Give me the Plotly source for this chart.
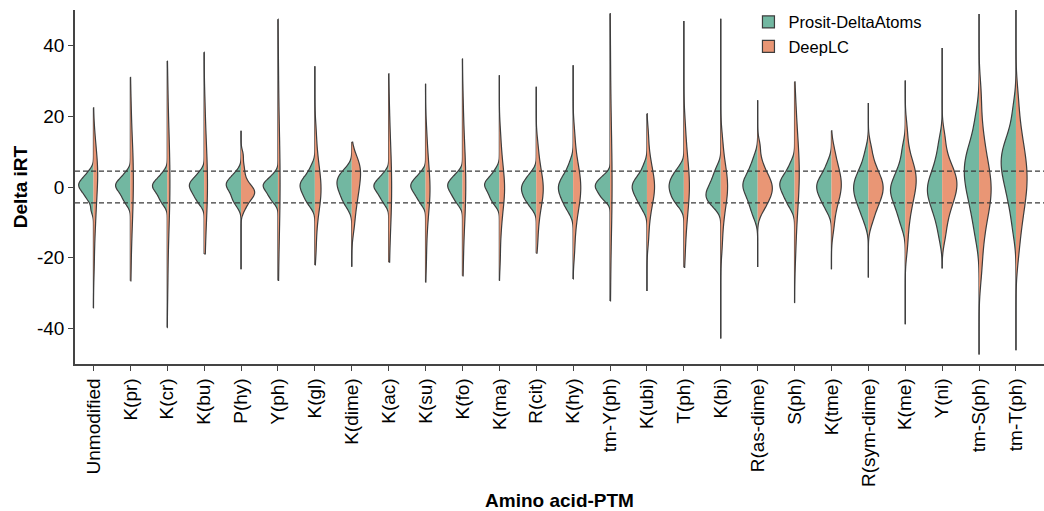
import numpy as np
import plotly.graph_objects as go

categories = ["Unmodified", "K(pr)", "K(cr)", "K(bu)", "P(hy)", "Y(ph)", "K(gl)", "K(dime)",
              "K(ac)", "K(su)", "K(fo)", "K(ma)", "R(cit)", "K(hy)", "tm-Y(ph)", "K(ubi)",
              "T(ph)", "K(bi)", "R(as-dime)", "S(ph)", "K(tme)", "R(sym-dime)", "K(me)",
              "Y(ni)", "tm-S(ph)", "tm-T(ph)"]

# Delta iRT values (quantile-like samples) per category
prosit_delta_atoms = [
    [-6.5, -4, -3, -2.2, -1.5, -0.9, -0.4, 0, 0.4, 0.8, 1.2, 1.6, 2.1, 2.7, 3.5, 4.6],
    [-5, -3.8, -3, -2.3, -1.6, -1, -0.5, -0.1, 0.3, 0.6, 1, 1.4, 1.9, 2.5, 3.2, 4.3],
    [-5, -3.9, -3.1, -2.4, -1.7, -1.1, -0.6, -0.2, 0.2, 0.5, 0.9, 1.3, 1.8, 2.4, 3.1, 4.3],
    [-5, -3.9, -3.1, -2.4, -1.8, -1.2, -0.7, -0.2, 0.2, 0.6, 1, 1.4, 1.9, 2.5, 3.2, 4.4],
    [-5.5, -4.2, -3.5, -2.8, -2, -1.2, -0.6, -0.1, 0.3, 0.7, 1.1, 1.5, 2, 2.6, 3.3, 4.5],
    [-4.5, -3.5, -2.8, -2.2, -1.6, -1.1, -0.6, -0.2, 0.2, 0.5, 0.8, 1.2, 1.6, 2.1, 2.8, 3.8],
    [-5.5, -4.3, -3.5, -2.7, -2, -1.3, -0.7, -0.2, 0.3, 0.8, 1.3, 1.8, 2.4, 3.2, 4.3, 6],
    [-6, -4.5, -3.6, -2.8, -2, -1.2, -0.5, 0, 0.6, 1.2, 1.8, 2.4, 2.9, 3.5, 4.3, 5.5],
    [-5, -3.8, -3, -2.3, -1.7, -1.1, -0.6, -0.2, 0.2, 0.5, 0.9, 1.3, 1.8, 2.4, 3.1, 4.2],
    [-5, -3.8, -3, -2.3, -1.7, -1.1, -0.6, -0.2, 0.2, 0.6, 1, 1.4, 1.9, 2.5, 3.2, 4.3],
    [-5, -3.9, -3.1, -2.4, -1.8, -1.2, -0.7, -0.2, 0.2, 0.6, 1, 1.4, 1.9, 2.5, 3.2, 4.2],
    [-5, -4, -3.2, -2.5, -1.8, -1.1, -0.5, 0, 0.4, 0.8, 1.2, 1.6, 2.1, 2.8, 3.7, 5],
    [-6, -4.8, -4, -3.3, -2.7, -2.1, -1.5, -1, -0.5, 0, 0.5, 1, 1.6, 2.3, 3.1, 4.3],
    [-7, -5.5, -4.5, -3.6, -2.8, -2, -1.3, -0.7, -0.1, 0.5, 1.1, 1.8, 2.6, 3.5, 4.8, 7],
    [-4, -3.2, -2.6, -2, -1.5, -1, -0.6, -0.2, 0.2, 0.5, 0.9, 1.3, 1.7, 2.2, 2.8, 3.7],
    [-6.5, -5, -4, -3.2, -2.4, -1.7, -1.1, -0.5, 0, 0.5, 1, 1.6, 2.3, 3.1, 4.2, 6.2],
    [-5.5, -4.3, -3.5, -2.8, -2.1, -1.4, -0.8, -0.2, 0.3, 0.9, 1.5, 2.1, 2.8, 3.5, 4.4, 5.7],
    [-6, -5, -4.3, -3.7, -3.1, -2.6, -2.1, -1.6, -1, -0.4, 0.3, 1.1, 2, 3, 4.2, 5.8],
    [-8.5, -6.5, -5, -3.8, -2.6, -1.6, -0.8, -0.1, 0.5, 1.1, 1.8, 2.6, 3.6, 4.8, 6.3, 8.5],
    [-6, -4.5, -3.5, -2.6, -1.8, -1.1, -0.4, 0.2, 0.7, 1.2, 1.8, 2.4, 3.1, 4, 5.2, 7],
    [-7, -5.3, -4.2, -3.3, -2.5, -1.7, -1, -0.4, 0.2, 0.8, 1.4, 2.1, 2.9, 3.9, 5.2, 7.2],
    [-10, -7.5, -6, -4.7, -3.6, -2.6, -1.7, -0.8, 0, 0.8, 1.7, 2.6, 3.7, 5, 6.8, 10],
    [-11, -8.5, -6.8, -5.3, -4, -3, -2.1, -1.3, -0.5, 0.3, 1.2, 2.2, 3.4, 5, 7.2, 11],
    [-14, -10, -7.8, -6, -4.5, -3.3, -2.2, -1.2, -0.3, 0.7, 1.8, 3, 4.5, 6.5, 9, 13],
    [-14, -9.5, -6.5, -4, -2, -0.3, 1.3, 2.8, 4.2, 5.6, 7, 8.4, 10, 12, 15, 20],
    [-12, -7, -4, -1.5, 0.5, 2.2, 3.8, 5.2, 6.5, 7.8, 9, 10.3, 11.8, 13.6, 16.5, 22],
]

deeplc = [
    [-22, -15, -11, -8, -5.5, -3.3, -1.3, 0.5, 2, 3.3, 4.6, 5.9, 7.3, 9, 11.5, 15],
    [-25, -17, -12.5, -9, -6.5, -4.2, -2, 0, 2, 4, 6, 8, 10.3, 13, 17, 24],
    [-28, -19, -13.5, -9.5, -6.8, -4.4, -2.1, 0.1, 2.3, 4.6, 7, 9.5, 12.3, 15.5, 20, 28],
    [-22, -15.5, -11.5, -8.3, -5.8, -3.8, -1.9, 0, 1.9, 3.8, 5.8, 8, 10.5, 13.5, 17.5, 24],
    [-6.5, -5, -4, -3.2, -2.6, -2.1, -1.7, -1.3, -0.9, -0.4, 0.2, 1, 2.2, 4, 6, 9],
    [-30, -20, -14.5, -10.5, -7.3, -4.6, -2, 0.6, 3.2, 5.8, 8.5, 11.5, 15, 19.5, 26, 36],
    [-18, -12.5, -9, -6.5, -4.8, -3.5, -2.3, -1.1, 0.1, 1.3, 2.6, 4, 5.7, 8, 11, 16],
    [-12, -9, -6.5, -4.5, -3, -1.6, -0.4, 0.7, 1.8, 2.9, 3.9, 4.8, 5.6, 6.4, 7.3, 8.5],
    [-26, -18, -13.5, -10, -7.5, -5.3, -3.3, -1.3, 0.7, 2.7, 4.8, 7, 9.5, 12.5, 16.5, 23],
    [-21, -14.5, -10.5, -7.8, -5.6, -4, -2.7, -1.4, -0.1, 1.3, 2.7, 4.3, 6.2, 8.5, 11.5, 16],
    [-24, -16.5, -12, -8.8, -6.3, -4.2, -2.3, -0.4, 1.5, 3.4, 5.4, 7.6, 10, 13, 17, 24],
    [-20, -13.5, -10, -7.3, -5.3, -3.8, -2.5, -1.3, -0.1, 1.1, 2.4, 3.8, 5.5, 7.7, 10.5, 15],
    [-16, -11.5, -8.5, -6.3, -4.7, -3.4, -2.3, -1.3, -0.3, 0.7, 1.7, 2.9, 4.3, 6, 8.5, 12],
    [-18, -12.5, -9.3, -6.8, -5, -3.6, -2.4, -1.2, 0, 1.2, 2.4, 3.7, 5.2, 7.2, 10, 15],
    [-32, -22, -15.5, -11, -7.7, -4.9, -2.2, 0.5, 3.2, 5.9, 8.7, 12, 16, 21, 28, 40],
    [-15, -10.5, -7.5, -5.4, -3.8, -2.6, -1.5, -0.5, 0.5, 1.5, 2.6, 3.8, 5.3, 7.3, 10, 15],
    [-20, -14, -10.5, -7.7, -5.5, -3.7, -2.1, -0.7, 0.7, 2.1, 3.6, 5.3, 7.3, 9.8, 13, 18],
    [-17, -12, -8.8, -6.4, -4.6, -3.2, -2, -0.8, 0.3, 1.4, 2.6, 3.9, 5.4, 7.3, 10, 14],
    [-7, -5.3, -4.2, -3.2, -2.4, -1.6, -0.9, -0.2, 0.5, 1.2, 2, 2.9, 4, 5.4, 7.5, 11.5],
    [-19, -12.5, -8.5, -5.5, -3, -1, 1, 2.7, 4.4, 6.1, 8, 10, 12.3, 15, 18.5, 24],
    [-12, -8.5, -6, -4.3, -3, -1.9, -0.9, 0, 0.9, 1.8, 2.8, 3.8, 5, 6.4, 8.3, 11],
    [-10, -7.5, -5.7, -4.4, -3.3, -2.3, -1.4, -0.6, 0.2, 1, 1.9, 2.9, 4, 5.5, 7.5, 11],
    [-17, -12, -8.5, -6, -4, -2.4, -1, 0.2, 1.4, 2.5, 3.5, 4.6, 5.8, 7.5, 10.5, 16],
    [-14, -10, -7.3, -5.3, -3.8, -2.5, -1.3, -0.3, 0.7, 1.7, 2.7, 3.8, 5, 6.6, 9.3, 14],
    [-24, -17, -12.5, -9, -6.5, -4.5, -2.8, -1.2, 0.4, 2, 3.8, 6, 8.6, 12, 17, 26],
    [-19, -13, -9.5, -6.5, -4, -2, -0.2, 1.5, 3.2, 5, 6.8, 8.8, 11, 14, 18, 25],
]

# extreme values (tails) per category
range_max = [22.4, 31.0, 35.6, 38.1, 15.9, 47.4, 34.1, 12.7, 32.0, 29.2, 36.2, 31.6, 28.3,
             34.4, 49.0, 20.7, 46.9, 47.5, 24.5, 29.7, 15.9, 23.7, 30.1, 39.3, 48.9, 50.0]
range_min = [-34.2, -26.5, -39.7, -18.9, -23.2, -26.4, -22.0, -22.5, -21.2, -26.9, -25.1,
             -26.4, -18.7, -26.0, -32.2, -29.4, -22.7, -42.8, -22.6, -32.7, -23.2, -25.6,
             -38.8, -22.9, -47.3, -46.1]

thresholds = [4.5, -4.5]
y_ticks = [-40, -20, 0, 20, 40]
y_tick_labels = ["-40", "-20", "0", "20", "40"]

GREEN = "#72b7a1"
ORANGE = "#e99675"
EDGE = "#3d3d3d"
AXIS = "#444444"
FONT = "Liberation Sans, Arial, sans-serif"
FULL_WIDTH = 0.8
BW_FACTOR = 0.8


def bandwidth(vals):
    v = np.asarray(vals, dtype=float)
    q75, q25 = np.percentile(v, [75, 25])
    spread = min(v.std(ddof=1), (q75 - q25) / 1.349)
    return BW_FACTOR * 1.059 * spread * len(v) ** -0.2


def kde_peak(vals, bw, lo, hi):
    v = np.asarray(vals, dtype=float)
    grid = np.linspace(lo, hi, 800)
    dens = np.exp(-0.5 * ((grid[:, None] - v[None, :]) / bw) ** 2).sum(axis=1)
    return dens.max() / (len(v) * bw * np.sqrt(2 * np.pi))


fig = go.Figure()
for i, cat in enumerate(categories):
    halves = [("Prosit-DeltaAtoms", prosit_delta_atoms[i], "negative", GREEN),
              ("DeepLC", deeplc[i], "positive", ORANGE)]
    bws = [bandwidth(h[1]) for h in halves]
    peaks = [kde_peak(h[1], b, range_min[i], range_max[i]) for h, b in zip(halves, bws)]
    top = max(peaks)
    for (name, data, side, color), bw, pk in zip(halves, bws, peaks):
        fig.add_trace(go.Violin(
            x=[cat] * len(data), y=data, name=name, legendgroup=name,
            showlegend=(i == 0), side=side, fillcolor=color,
            line=dict(color=EDGE, width=1.2), width=FULL_WIDTH * pk / top,
            scalegroup=f"{cat}-{name}", scalemode="width", bandwidth=bw,
            spanmode="manual", span=[range_min[i], range_max[i]],
            points=False, hoverinfo="skip", opacity=1,
        ))

for t in thresholds:
    fig.add_shape(type="line", xref="paper", x0=0, x1=1, yref="y", y0=t, y1=t,
                  line=dict(color="#3a3a3a", width=1.3, dash="5px,3px"), layer="above")

fig.update_layout(
    width=1044, height=511,
    margin=dict(l=75, r=0, t=10, b=147),
    plot_bgcolor="white", paper_bgcolor="white",
    violinmode="overlay", violingap=0, violingroupgap=0,
    font=dict(family=FONT, color="black", size=19),
    showlegend=True,
    legend=dict(x=0.695, y=1.015, xanchor="left", yanchor="top",
                font=dict(size=16.5, family=FONT), bgcolor="rgba(0,0,0,0)",
                tracegroupgap=0),
)
fig.update_xaxes(
    type="category", categoryorder="array", categoryarray=categories,
    range=[-0.5, 25.76], tickangle=-90, ticks="outside", ticklen=5,
    tickcolor=AXIS, showline=True, linecolor=AXIS, linewidth=1.5,
    showgrid=False, zeroline=False, tickfont=dict(size=19, family=FONT),
    title=dict(text="Amino acid-PTM", font=dict(size=19, family=FONT, weight="bold"), standoff=10),
    automargin=False,
)
fig.update_yaxes(
    range=[-50, 50], tickvals=y_ticks, ticktext=y_tick_labels,
    ticks="outside", ticklen=5, tickcolor=AXIS, showline=True, linecolor=AXIS,
    linewidth=1.5, showgrid=False, zeroline=False, tickfont=dict(size=19, family=FONT),
    title=dict(text="Delta iRT", font=dict(size=19, family=FONT, weight="bold"), standoff=4),
    automargin=False,
)

fig.write_html("out.html")
